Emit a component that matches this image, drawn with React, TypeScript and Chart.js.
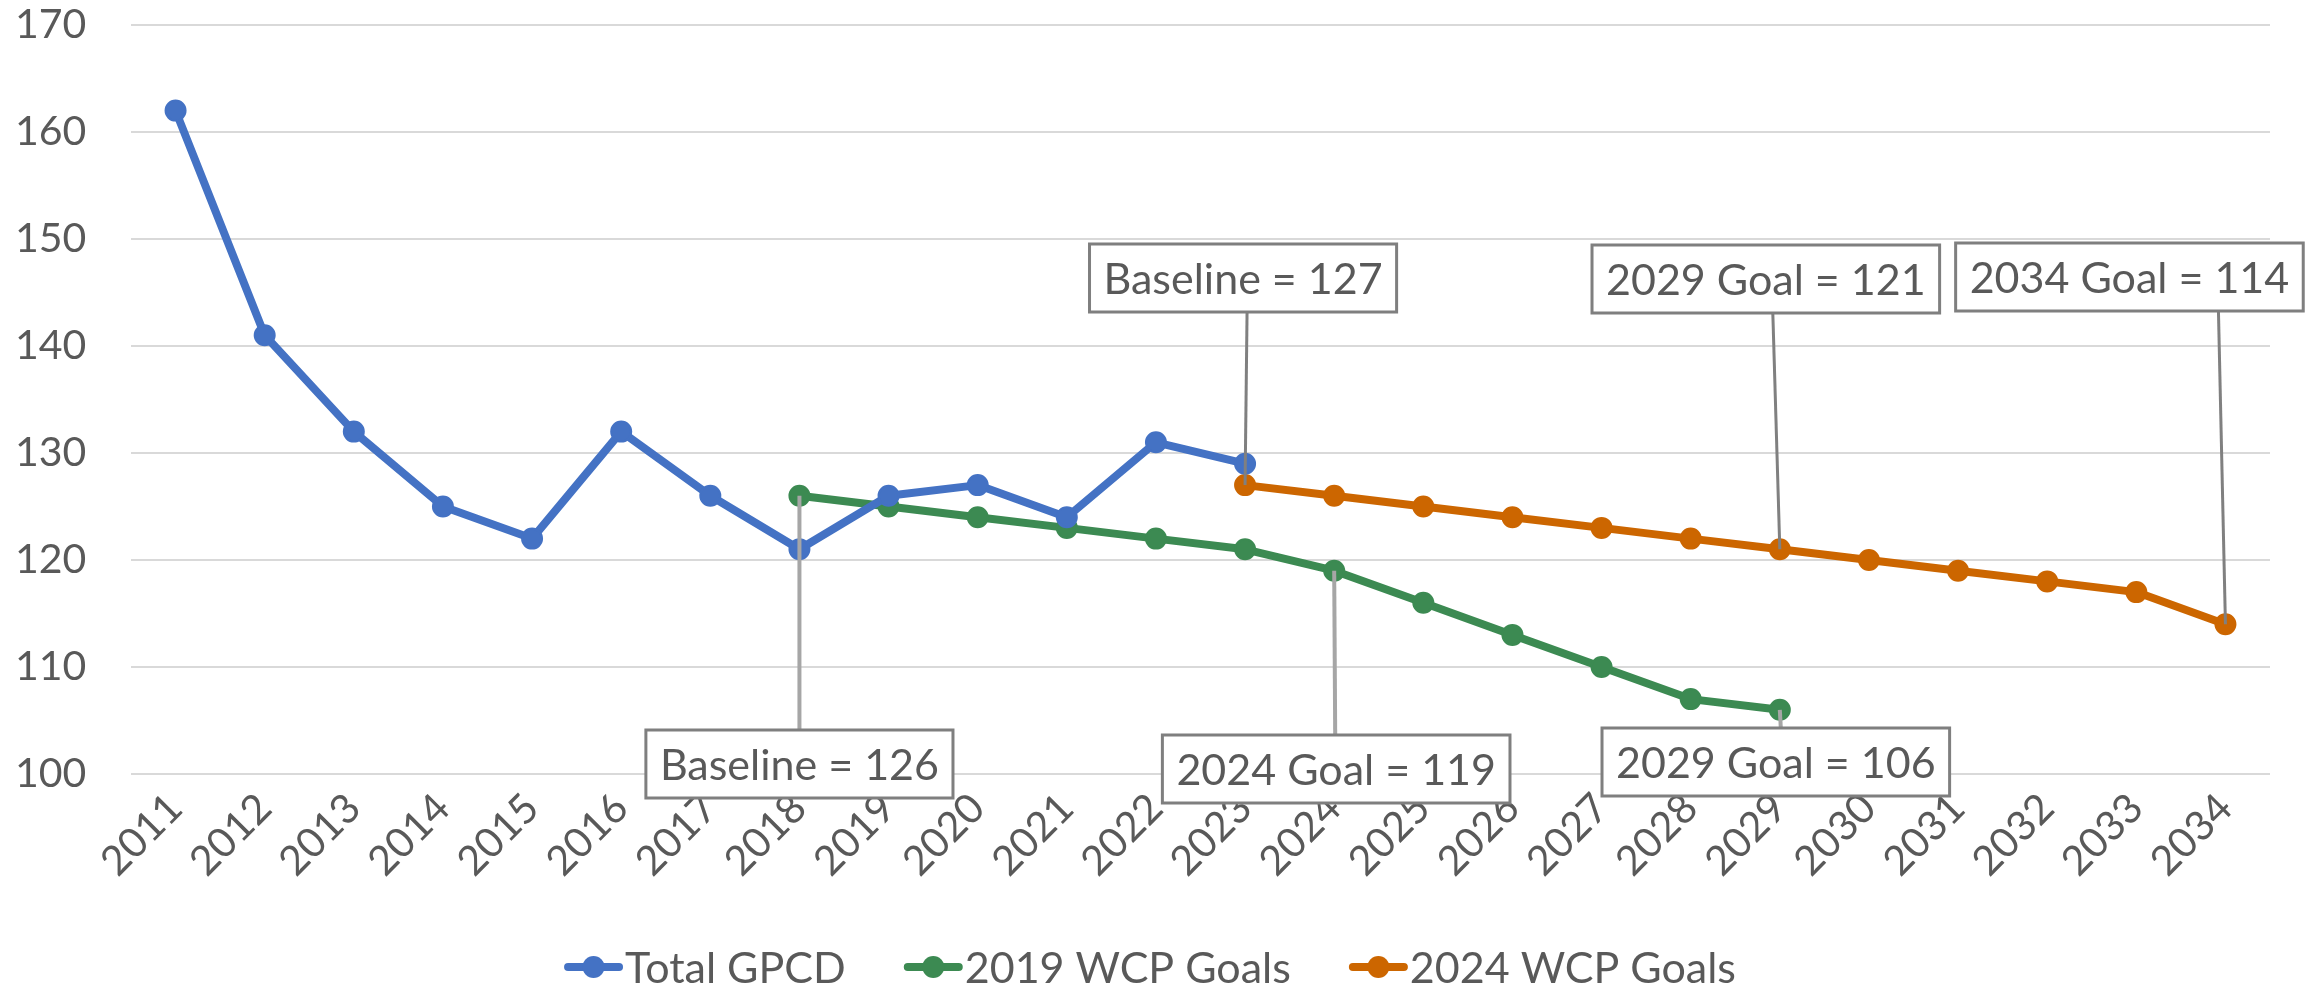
import React, { useEffect, useRef } from "react";
import { Chart, registerables } from "chart.js";

Chart.register(...registerables);

const years: string[] = [
  "2011", "2012", "2013", "2014", "2015", "2016", "2017", "2018", "2019", "2020", "2021", "2022",
  "2023", "2024", "2025", "2026", "2027", "2028", "2029", "2030", "2031", "2032", "2033", "2034",
];

const totalGpcdStart = "2011";
const totalGpcd: number[] = [162, 141, 132, 125, 122, 132, 126, 121, 126, 127, 124, 131, 129];

const goals2019Start = "2018";
const goals2019: number[] = [126, 125, 124, 123, 122, 121, 119, 116, 113, 110, 107, 106];

const goals2024Start = "2023";
const goals2024: number[] = [127, 126, 125, 124, 123, 122, 121, 120, 119, 118, 117, 114];

const seriesNames: string[] = ["Total GPCD", "2019 WCP Goals", "2024 WCP Goals"];
const seriesColors: string[] = ["#4472C4", "#3C8A52", "#CC6600"];

const yTicks: number[] = [100, 110, 120, 130, 140, 150, 160, 170];

// Callout labels: dataset, year, text
const calloutSeries: number[] = [2, 2, 2, 1, 1, 1];
const calloutYears: string[] = ["2023", "2029", "2034", "2018", "2024", "2029"];
const calloutTexts: string[] = [
  "Baseline = 127",
  "2029 Goal = 121",
  "2034 Goal = 114",
  "Baseline = 126",
  "2024 Goal = 119",
  "2029 Goal = 106",
];

// layout of callouts (pixels)
const calloutBoxDx = [-2, -14, -96, 0, 2, -4];
const calloutBoxTop = [244, 245, 243, 730, 735, 728];
const calloutLeaderDx = [2, -7, -7, 0, 1, 1];
const calloutLeaderColor = ["#808080", "#808080", "#808080", "#A6A6A6", "#A6A6A6", "#A6A6A6"];

const FONT = "Lato, 'Open Sans', sans-serif";
const TEXT = "#595959";

function pad(start: string, values: number[]): (number | null)[] {
  const s = years.indexOf(start);
  return years.map((_, i) => (i >= s && i - s < values.length ? values[i - s] : null));
}

const calloutPlugin = {
  id: "callouts",
  afterDatasetsDraw(chart: any) {
    const ctx = chart.ctx;
    ctx.save();
    ctx.font = `43px ${FONT}`;
    for (let k = 0; k < calloutTexts.length; k++) {
      const meta = chart.getDatasetMeta(calloutSeries[k]);
      const idx = years.indexOf(calloutYears[k]);
      const pt = meta.data[idx];
      if (!pt) continue;
      const px = pt.x;
      const py = pt.y;
      const text = calloutTexts[k];
      const tw = ctx.measureText(text).width;
      const bw = tw + 28;
      const bh = 68;
      const cx = px + calloutBoxDx[k];
      const top = calloutBoxTop[k];
      const left = cx - bw / 2;
      const below = top > py;
      // leader
      ctx.beginPath();
      ctx.strokeStyle = calloutLeaderColor[k];
      ctx.lineWidth = below ? 4 : 3;
      ctx.moveTo(px + calloutLeaderDx[k], below ? top : top + bh);
      ctx.lineTo(px, py);
      ctx.stroke();
      // box
      ctx.fillStyle = "#FFFFFF";
      ctx.fillRect(left, top, bw, bh);
      ctx.strokeStyle = "#7F7F7F";
      ctx.lineWidth = 3;
      ctx.strokeRect(left, top, bw, bh);
      ctx.fillStyle = TEXT;
      ctx.textAlign = "center";
      ctx.textBaseline = "alphabetic";
      ctx.fillText(text, cx, top + 50);
    }
    ctx.restore();
  },
};

const legendPlugin = {
  id: "customLegend",
  afterDraw(chart: any) {
    const ctx = chart.ctx;
    ctx.save();
    ctx.font = `43px ${FONT}`;
    const markW = 59;
    const gapText = 2;
    const gapItem = 58;
    const widths = seriesNames.map((n) => ctx.measureText(n).width);
    const total =
      widths.reduce((a, b) => a + b, 0) + seriesNames.length * (markW + gapText) + gapItem * (seriesNames.length - 1);
    let x = 1150 - total / 2;
    const yMid = 967;
    for (let i = 0; i < seriesNames.length; i++) {
      const c = seriesColors[i];
      ctx.beginPath();
      ctx.strokeStyle = c;
      ctx.lineWidth = 8;
      ctx.lineCap = "round";
      ctx.moveTo(x + 4, yMid);
      ctx.lineTo(x + markW - 4, yMid);
      ctx.stroke();
      ctx.beginPath();
      ctx.fillStyle = c;
      ctx.arc(x + markW / 2, yMid, 11, 0, Math.PI * 2);
      ctx.fill();
      ctx.fillStyle = TEXT;
      ctx.textAlign = "left";
      ctx.textBaseline = "alphabetic";
      ctx.fillText(seriesNames[i], x + markW + gapText, 983);
      x += markW + gapText + widths[i] + gapItem;
    }
    ctx.restore();
  },
};

export default function App() {
  const ref = useRef<HTMLCanvasElement | null>(null);

  useEffect(() => {
    document.body.style.margin = "0";
    if (!ref.current) return;
    const data = [pad(totalGpcdStart, totalGpcd), pad(goals2019Start, goals2019), pad(goals2024Start, goals2024)];
    const chart = new Chart(ref.current, {
      type: "line",
      data: {
        labels: years,
        datasets: seriesNames.map((name, i) => ({
          label: name,
          data: data[i],
          borderColor: seriesColors[i],
          backgroundColor: seriesColors[i],
          pointBackgroundColor: seriesColors[i],
          pointBorderColor: seriesColors[i],
          borderWidth: 8,
          pointRadius: 10,
          pointBorderWidth: 2,
          borderJoinStyle: "round" as const,
          borderCapStyle: "round" as const,
          spanGaps: false,
          tension: 0,
        })),
      },
      options: {
        responsive: false,
        devicePixelRatio: 1,
        animation: false,
        layout: { padding: { top: 25, right: 48, left: 15, bottom: 0 } },
        plugins: {
          legend: { display: false },
          tooltip: { enabled: false },
        },
        scales: {
          x: {
            type: "category",
            offset: true,
            grid: { display: false, drawTicks: false },
            border: { display: false },
            ticks: {
              autoSkip: false,
              minRotation: 45,
              maxRotation: 45,
              padding: 10,
              color: TEXT,
              font: { family: FONT, size: 41 },
            },
            afterFit: (s: any) => {
              s.height = 216;
            },
          },
          y: {
            min: 100,
            max: 170,
            afterBuildTicks: (s: any) => {
              s.ticks = yTicks.map((v) => ({ value: v }));
            },
            grid: { color: "#D9D9D9", lineWidth: 2, drawTicks: false },
            border: { display: false },
            ticks: {
              padding: 0,
              crossAlign: "far",
              color: TEXT,
              font: { family: FONT, size: 41 },
            },
            afterFit: (s: any) => {
              s.width = 116;
            },
          },
        },
      },
      plugins: [calloutPlugin, legendPlugin],
    });
    return () => chart.destroy();
  }, []);

  return (
    <div style={{ width: 2318, height: 990, background: "#FFFFFF" }}>
      <canvas ref={ref} width={2318} height={990} style={{ display: "block" }} />
    </div>
  );
}
